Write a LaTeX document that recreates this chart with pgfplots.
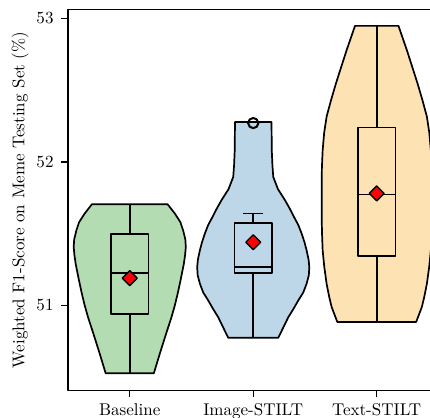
\documentclass[border=0pt]{standalone}
\usepackage{pgfplots}
\pgfplotsset{compat=1.18}
\definecolor{vgreen}{RGB}{179,220,179}
\definecolor{vblue}{RGB}{189,214,232}
\definecolor{vorange}{RGB}{253,226,180}
\begin{document}
\begin{tikzpicture}
\begin{axis}[
  at={(0,0)}, anchor=south west,
  scale only axis, width=217.9pt, height=224.1pt,
  xmin=-0.5, xmax=2.5, ymin=50.407, ymax=53.061,
  xtick={0,1,2}, xticklabels={Baseline,Image-STILT,Text-STILT},
  ytick={51,52,53},
  tick pos=left, tick align=outside, major tick length=4pt,
  tick style={black, line width=0.8pt},
  axis line style={line width=0.8pt},
  every axis y label/.style={at={(axis description cs:-0.1294,0.5)}, rotate=90, anchor=center},
  ylabel={Weighted F1-Score on Meme Testing Set (\%)},
  yticklabel style={xshift=-1pt},
  line join=round,
]
% violins
\addplot[fill=vgreen, draw=black, line width=1pt] coordinates {
 (-0.306,51.705) (0.306,51.705) (0.365,51.64) (0.410,51.58) (0.432,51.523) (0.450,51.46) (0.454,51.407) (0.448,51.35) (0.438,51.29) (0.411,51.174) (0.390,51.09) (0.365,51.0) (0.335,50.91) (0.303,50.826) (0.273,50.745) (0.243,50.663) (0.195,50.527)
 (-0.195,50.527) (-0.243,50.663) (-0.273,50.745) (-0.303,50.826) (-0.335,50.91) (-0.365,51.0) (-0.390,51.09) (-0.411,51.174) (-0.438,51.29) (-0.448,51.35) (-0.454,51.407) (-0.450,51.46) (-0.432,51.523) (-0.410,51.58) (-0.365,51.64)
} -- cycle;
\addplot[fill=vblue, draw=black, line width=1pt] coordinates {
 (0.852,52.277) (1.148,52.277) (1.150,52.08) (1.155,51.98) (1.162,51.895) (1.200,51.81) (1.257,51.733) (1.295,51.675) (1.330,51.616) (1.365,51.56) (1.392,51.5) (1.415,51.44) (1.432,51.384) (1.448,51.32) (1.454,51.267) (1.450,51.21) (1.432,51.151) (1.405,51.09) (1.365,51.035) (1.325,50.975) (1.284,50.918) (1.203,50.775)
 (0.797,50.775) (0.716,50.918) (0.675,50.975) (0.635,51.035) (0.595,51.09) (0.568,51.151) (0.550,51.21) (0.546,51.267) (0.552,51.32) (0.568,51.384) (0.585,51.44) (0.608,51.5) (0.635,51.56) (0.670,51.616) (0.705,51.675) (0.743,51.733) (0.800,51.81) (0.838,51.895) (0.845,51.98) (0.850,52.08)
} -- cycle;
\addplot[fill=vorange, draw=black, line width=1pt] coordinates {
 (1.824,52.947) (2.176,52.947) (2.243,52.78) (2.288,52.66) (2.330,52.547) (2.370,52.43) (2.406,52.315) (2.426,52.2) (2.438,52.08) (2.444,51.96) (2.446,51.85) (2.446,51.616) (2.443,51.5) (2.438,51.384) (2.425,51.27) (2.406,51.151) (2.385,51.06) (2.365,50.988) (2.319,50.884)
 (1.681,50.884) (1.635,50.988) (1.615,51.06) (1.594,51.151) (1.575,51.27) (1.562,51.384) (1.557,51.5) (1.554,51.616) (1.554,51.85) (1.556,51.96) (1.562,52.08) (1.574,52.2) (1.594,52.315) (1.630,52.43) (1.670,52.547) (1.712,52.66) (1.757,52.78)
} -- cycle;
% boxes (Baseline)
\addplot[draw=black, line width=1pt] coordinates {(-0.1525,50.94) (0.1525,50.94) (0.1525,51.495) (-0.1525,51.495)} -- cycle;
\addplot[draw=black, line width=1pt] coordinates {(-0.1525,51.225) (0.1525,51.225)};
\addplot[draw=black, line width=1pt] coordinates {(0,51.495) (0,51.705)};
\addplot[draw=black, line width=1pt] coordinates {(0,50.94) (0,50.527)};
% boxes (Image-STILT)
\addplot[draw=black, line width=1pt] coordinates {(0.8475,51.225) (1.1525,51.225) (1.1525,51.574) (0.8475,51.574)} -- cycle;
\addplot[draw=black, line width=1pt] coordinates {(0.8475,51.267) (1.1525,51.267)};
\addplot[draw=black, line width=1pt] coordinates {(1,51.574) (1,51.64)};
\addplot[draw=black, line width=1pt] coordinates {(0.92,51.64) (1.08,51.64)};
\addplot[draw=black, line width=1pt] coordinates {(1,51.225) (1,50.775)};
% boxes (Text-STILT)
\addplot[draw=black, line width=1pt] coordinates {(1.8475,51.342) (2.1525,51.342) (2.1525,52.24) (1.8475,52.24)} -- cycle;
\addplot[draw=black, line width=1pt] coordinates {(1.8475,51.772) (2.1525,51.772)};
\addplot[draw=black, line width=1pt] coordinates {(2,52.24) (2,52.947)};
\addplot[draw=black, line width=1pt] coordinates {(2,51.342) (2,50.884)};
% outlier
\addplot[only marks, mark=o, mark size=3pt, mark options={draw=black, line width=1.2pt}] coordinates {(1,52.27)};
% means
\addplot[only marks, mark=square*, mark size=3.1pt, mark options={rotate=45, fill=red, draw=black, line width=0.8pt}] coordinates {(0,51.19) (1,51.44) (2,51.78)};
\end{axis}
\pgfresetboundingbox
\path[use as bounding box] (-40pt,-15.6pt) rectangle (212.9pt,229.7pt);
\end{tikzpicture}
\end{document}
